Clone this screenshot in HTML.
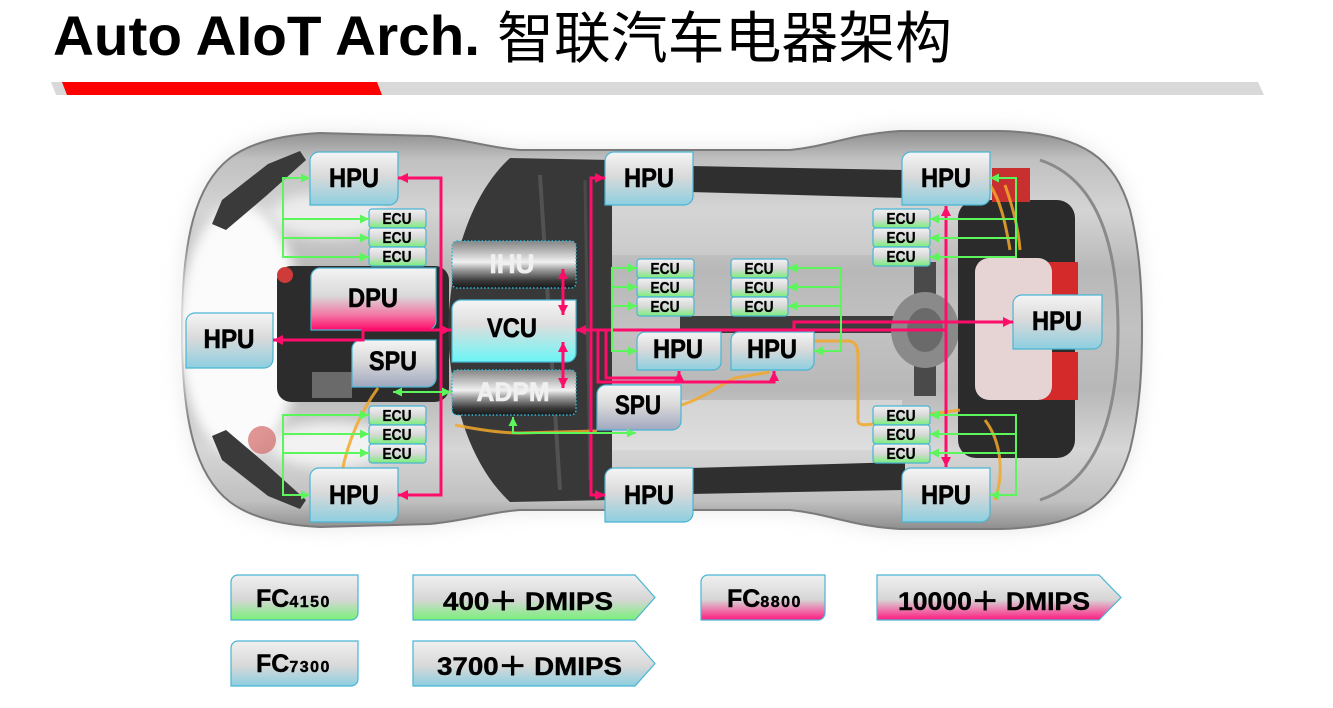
<!DOCTYPE html>
<html>
<head>
<meta charset="utf-8">
<style>
html,body{margin:0;padding:0;background:#fff;}
body{width:1333px;height:708px;overflow:hidden;position:relative;}
svg{position:absolute;left:0;top:0;}
.t{font-family:"Liberation Sans",Arial,sans-serif;font-weight:bold;}
</style>
</head>
<body>
<svg width="1333" height="708" viewBox="0 0 1333 708" xmlns="http://www.w3.org/2000/svg">
<defs>
  <linearGradient id="gCar" x1="0" y1="0" x2="0" y2="1">
    <stop offset="0" stop-color="#8e8e8e"/>
    <stop offset="0.07" stop-color="#c0c0c0"/>
    <stop offset="0.2" stop-color="#d4d4d4"/>
    <stop offset="0.35" stop-color="#b8b8b8"/>
    <stop offset="0.5" stop-color="#c2c2c2"/>
    <stop offset="0.65" stop-color="#b8b8b8"/>
    <stop offset="0.8" stop-color="#d6d6d6"/>
    <stop offset="0.93" stop-color="#c0c0c0"/>
    <stop offset="1" stop-color="#8e8e8e"/>
  </linearGradient>
  <linearGradient id="gBlue" x1="0" y1="0" x2="0" y2="1">
    <stop offset="0" stop-color="#f5f5f5"/>
    <stop offset="0.45" stop-color="#dadada"/>
    <stop offset="1" stop-color="#8dcfe0"/>
  </linearGradient>
  <linearGradient id="gPink" x1="0" y1="0" x2="0" y2="1">
    <stop offset="0" stop-color="#f3f3f3"/>
    <stop offset="0.45" stop-color="#d9d9d9"/>
    <stop offset="0.75" stop-color="#f27aa6"/>
    <stop offset="1" stop-color="#ff0a6a"/>
  </linearGradient>
  <linearGradient id="gCyan" x1="0" y1="0" x2="0" y2="1">
    <stop offset="0" stop-color="#f5f5f5"/>
    <stop offset="0.4" stop-color="#dedede"/>
    <stop offset="1" stop-color="#6af6f6"/>
  </linearGradient>
  <linearGradient id="gSlate" x1="0" y1="0" x2="0" y2="1">
    <stop offset="0" stop-color="#f5f5f5"/>
    <stop offset="0.45" stop-color="#d9d9d9"/>
    <stop offset="1" stop-color="#a0a8c0"/>
  </linearGradient>
  <linearGradient id="gGreen" x1="0" y1="0" x2="0" y2="1">
    <stop offset="0" stop-color="#f2f2f2"/>
    <stop offset="0.5" stop-color="#d8d8d8"/>
    <stop offset="1" stop-color="#78f078"/>
  </linearGradient>
  <linearGradient id="gMetal" x1="0" y1="0" x2="0" y2="1">
    <stop offset="0" stop-color="#858585"/>
    <stop offset="0.15" stop-color="#a8a8a8"/>
    <stop offset="0.45" stop-color="#f0f0f0"/>
    <stop offset="0.6" stop-color="#a2a2a2"/>
    <stop offset="0.85" stop-color="#383838"/>
    <stop offset="1" stop-color="#1a1a1a"/>
  </linearGradient>
  <linearGradient id="lGreen" x1="0" y1="0" x2="0" y2="1">
    <stop offset="0" stop-color="#f0f0f0"/>
    <stop offset="0.55" stop-color="#d6d6d6"/>
    <stop offset="1" stop-color="#78f078"/>
  </linearGradient>
  <linearGradient id="lBlue" x1="0" y1="0" x2="0" y2="1">
    <stop offset="0" stop-color="#f0f0f0"/>
    <stop offset="0.55" stop-color="#d8d8d8"/>
    <stop offset="1" stop-color="#8ccfe0"/>
  </linearGradient>
  <linearGradient id="lPink" x1="0" y1="0" x2="0" y2="1">
    <stop offset="0" stop-color="#f0f0f0"/>
    <stop offset="0.55" stop-color="#d6d6d6"/>
    <stop offset="1" stop-color="#ff1a80"/>
  </linearGradient>
  <filter id="blur10" x="-20%" y="-20%" width="140%" height="140%"><feGaussianBlur stdDeviation="10"/></filter>
  <filter id="blur6" x="-30%" y="-30%" width="160%" height="160%"><feGaussianBlur stdDeviation="6"/></filter>
  <marker id="ap" viewBox="0 0 10 10" refX="10" refY="5" markerWidth="11" markerHeight="10" markerUnits="userSpaceOnUse" orient="auto-start-reverse">
    <path d="M0,0 L10,5 L0,10 z" fill="#ff0d6a"/>
  </marker>
  <marker id="ag" viewBox="0 0 10 10" refX="10" refY="5" markerWidth="9" markerHeight="9" markerUnits="userSpaceOnUse" orient="auto-start-reverse">
    <path d="M0,0 L10,5 L0,10 z" fill="#5cf55c"/>
  </marker>
</defs>

<!-- Title -->
<text class="t" x="53" y="55" font-size="56" fill="#000" textLength="427" lengthAdjust="spacingAndGlyphs">Auto AIoT Arch.</text>
<text x="497" y="58" font-size="56" fill="#000" font-family="'Liberation Sans','Noto Sans CJK SC',sans-serif" textLength="455" lengthAdjust="spacingAndGlyphs">智联汽车电器架构</text>
<polygon points="51,82 1258,82 1264,95 56,95" fill="#d9d9d9"/>
<polygon points="62,82 377,82 382,95 67,95" fill="#ff0000"/>

<!-- Car -->
<path d="M182,330 C182,240 195,185 230,158 C250,143 280,135 320,133 L430,136 C470,140 490,148 520,150 L790,150 C830,146 850,134 900,131 L1000,131 C1085,133 1115,160 1130,210 C1140,250 1142,290 1142,330 C1142,370 1140,410 1130,450 C1115,500 1085,527 1000,529 L900,529 C850,526 830,514 790,510 L520,510 C490,512 470,520 430,524 L320,527 C280,525 250,517 230,502 C195,475 182,420 182,330 Z" fill="#cfcfcf" opacity="0.55" filter="url(#blur10)"/>
<path d="M182,330 C182,240 195,185 230,158 C250,143 280,135 320,133 L430,136 C470,140 490,148 520,150 L790,150 C830,146 850,134 900,131 L1000,131 C1085,133 1115,160 1130,210 C1140,250 1142,290 1142,330 C1142,370 1140,410 1130,450 C1115,500 1085,527 1000,529 L900,529 C850,526 830,514 790,510 L520,510 C490,512 470,520 430,524 L320,527 C280,525 250,517 230,502 C195,475 182,420 182,330 Z" fill="url(#gCar)" stroke="#7a7a7a" stroke-width="2"/>
<!-- front hood highlight -->
<ellipse cx="240" cy="330" rx="62" ry="125" fill="#fbfbfb" filter="url(#blur6)"/>
<ellipse cx="330" cy="215" rx="60" ry="22" fill="#ececec" filter="url(#blur6)"/>
<ellipse cx="330" cy="445" rx="60" ry="22" fill="#f2f2f2" filter="url(#blur6)"/>
<!-- headlights -->
<polygon points="212,224 222,200 268,164 300,151 306,160 266,196 226,230" fill="#3a3a3a"/>
<polygon points="212,436 222,460 268,496 300,509 306,500 266,464 226,430" fill="#3a3a3a"/>
<circle cx="262" cy="440" r="14" fill="#d46a6a" opacity="0.7"/>
<!-- front engine / tyre -->
<rect x="277" y="266" width="172" height="136" rx="14" fill="#2c2c2c"/>
<circle cx="285" cy="275" r="8" fill="#cf3a3a"/>
<rect x="312" y="372" width="40" height="26" fill="#6a6a6a"/>
<!-- windshield -->
<path d="M510,158 C470,195 450,260 448,330 C450,400 470,465 510,502 L612,500 L612,160 Z" fill="#383838"/>
<path d="M540,175 L560,490" stroke="#525252" stroke-width="4"/>
<path d="M585,180 L590,480" stroke="#4a4a4a" stroke-width="3"/>
<!-- roof highlights -->
<rect x="612" y="205" width="290" height="50" fill="#d6d6d6" opacity="0.5"/>
<rect x="612" y="400" width="290" height="50" fill="#e2e2e2" opacity="0.6"/>
<!-- side windows -->
<polygon points="690,166 905,170 905,198 690,192" fill="#2f2f2f"/>
<polygon points="690,468 905,462 905,490 690,494" fill="#2f2f2f"/>
<!-- driveshaft / diff -->
<rect x="680" y="316" width="270" height="17" fill="#3c3c3c"/>
<rect x="914" y="262" width="22" height="134" fill="#4a4a4a"/>
<ellipse cx="925" cy="330" rx="34" ry="38" fill="#8a8a8a"/>
<ellipse cx="925" cy="330" rx="18" ry="22" fill="#6a6a6a"/>
<!-- rear bay -->
<rect x="958" y="200" width="117" height="258" rx="18" fill="#2b2b2b"/>
<rect x="992" y="168" width="38" height="34" fill="#c83030"/>
<rect x="1040" y="262" width="38" height="34" fill="#d42a2a"/>
<rect x="1040" y="352" width="38" height="48" fill="#d42a2a"/>
<rect x="975" y="258" width="77" height="142" rx="14" fill="#e6d4d4"/>
<path d="M1040,160 C1100,180 1118,250 1118,330 C1118,410 1100,480 1040,500" stroke="#8a8a8a" stroke-width="3" fill="none"/>
<!-- orange wires -->
<g stroke="#f2a82a" stroke-width="3" fill="none" opacity="0.85">
  <path d="M378,388 C362,410 348,440 342,472"/>
  <path d="M455,425 C480,430 500,433 520,433 L597,431"/>
  <path d="M814,341 L850,341 C858,343 858,350 858,360 L858,420 C858,428 870,425 900,418 L960,410"/>
  <path d="M681,405 C700,400 720,385 735,378 L770,372"/>
  <path d="M990,185 C1000,200 1005,220 1010,250"/>
  <path d="M1005,185 C1012,205 1018,225 1020,250"/>
  <path d="M985,420 C1000,440 1005,470 995,500"/>
</g>

<!-- Boxes -->
<g stroke="#4ab4d4" stroke-width="1.2">
  <path d="M319,152 H398 V196 A9,9 0 0 1 389,205 H310 V161 A9,9 0 0 1 319,152 Z" fill="url(#gBlue)"/>
  <path d="M319,468 H398 V513 A9,9 0 0 1 389,522 H310 V477 A9,9 0 0 1 319,468 Z" fill="url(#gBlue)"/>
  <path d="M195,313 H273 V359 A9,9 0 0 1 264,368 H186 V322 A9,9 0 0 1 195,313 Z" fill="url(#gBlue)"/>
  <path d="M320,268 H436 V321 A9,9 0 0 1 427,330 H311 V277 A9,9 0 0 1 320,268 Z" fill="url(#gPink)"/>
  <path d="M361,340 H436 V378 A9,9 0 0 1 427,387 H352 V349 A9,9 0 0 1 361,340 Z" fill="url(#gSlate)"/>
  <path d="M461,300 H576 V353 A9,9 0 0 1 567,362 H452 V309 A9,9 0 0 1 461,300 Z" fill="url(#gCyan)"/>
  <path d="M614,152 H693 V196 A9,9 0 0 1 684,205 H605 V161 A9,9 0 0 1 614,152 Z" fill="url(#gBlue)"/>
  <path d="M614,468 H693 V513 A9,9 0 0 1 684,522 H605 V477 A9,9 0 0 1 614,468 Z" fill="url(#gBlue)"/>
  <path d="M911,152 H990 V196 A9,9 0 0 1 981,205 H902 V161 A9,9 0 0 1 911,152 Z" fill="url(#gBlue)"/>
  <path d="M911,468 H990 V513 A9,9 0 0 1 981,522 H902 V477 A9,9 0 0 1 911,468 Z" fill="url(#gBlue)"/>
  <path d="M1022,295 H1102 V340 A9,9 0 0 1 1093,349 H1013 V304 A9,9 0 0 1 1022,295 Z" fill="url(#gBlue)"/>
  <path d="M645,332 H721 V362 A8,8 0 0 1 713,370 H637 V340 A8,8 0 0 1 645,332 Z" fill="url(#gBlue)"/>
  <path d="M739,332 H814 V362 A8,8 0 0 1 806,370 H731 V340 A8,8 0 0 1 739,332 Z" fill="url(#gBlue)"/>
  <path d="M606,385 H681 V421 A9,9 0 0 1 672,430 H597 V394 A9,9 0 0 1 606,385 Z" fill="url(#gSlate)"/>
  <!-- ECUs -->
  <rect x="369" y="209" width="57" height="19" rx="3" fill="url(#gGreen)"/>
  <rect x="369" y="228" width="57" height="19" rx="3" fill="url(#gGreen)"/>
  <rect x="369" y="247" width="57" height="19" rx="3" fill="url(#gGreen)"/>
  <rect x="369" y="406" width="57" height="19" rx="3" fill="url(#gGreen)"/>
  <rect x="369" y="425" width="57" height="19" rx="3" fill="url(#gGreen)"/>
  <rect x="369" y="444" width="57" height="19" rx="3" fill="url(#gGreen)"/>
  <rect x="637" y="259" width="57" height="19" rx="3" fill="url(#gGreen)"/>
  <rect x="637" y="278" width="57" height="19" rx="3" fill="url(#gGreen)"/>
  <rect x="637" y="297" width="57" height="19" rx="3" fill="url(#gGreen)"/>
  <rect x="731" y="259" width="57" height="19" rx="3" fill="url(#gGreen)"/>
  <rect x="731" y="278" width="57" height="19" rx="3" fill="url(#gGreen)"/>
  <rect x="731" y="297" width="57" height="19" rx="3" fill="url(#gGreen)"/>
  <rect x="873" y="209" width="57" height="19" rx="3" fill="url(#gGreen)"/>
  <rect x="873" y="228" width="57" height="19" rx="3" fill="url(#gGreen)"/>
  <rect x="873" y="247" width="57" height="19" rx="3" fill="url(#gGreen)"/>
  <rect x="873" y="406" width="57" height="19" rx="3" fill="url(#gGreen)"/>
  <rect x="873" y="425" width="57" height="19" rx="3" fill="url(#gGreen)"/>
  <rect x="873" y="444" width="57" height="19" rx="3" fill="url(#gGreen)"/>
</g>
<!-- IHU / ADPM -->
<rect x="452" y="241" width="124" height="47" rx="5" fill="url(#gMetal)" stroke="#2fb8d8" stroke-width="1.5" stroke-dasharray="1.5 2"/>
<rect x="452" y="370" width="124" height="45" rx="5" fill="url(#gMetal)" stroke="#2fb8d8" stroke-width="1.5" stroke-dasharray="1.5 2"/>

<!-- Box labels -->
<g class="t" font-size="27" fill="#000" stroke="#000" stroke-width="0.6" text-anchor="middle">
  <text x="354" y="187" textLength="50" lengthAdjust="spacingAndGlyphs">HPU</text>
  <text x="354" y="504" textLength="50" lengthAdjust="spacingAndGlyphs">HPU</text>
  <text x="229" y="348" textLength="51" lengthAdjust="spacingAndGlyphs">HPU</text>
  <text x="373" y="307" textLength="50" lengthAdjust="spacingAndGlyphs">DPU</text>
  <text x="393" y="370" textLength="48" lengthAdjust="spacingAndGlyphs">SPU</text>
  <text x="512" y="337" textLength="50" lengthAdjust="spacingAndGlyphs">VCU</text>
  <text x="649" y="187" textLength="50" lengthAdjust="spacingAndGlyphs">HPU</text>
  <text x="649" y="504" textLength="50" lengthAdjust="spacingAndGlyphs">HPU</text>
  <text x="946" y="187" textLength="50" lengthAdjust="spacingAndGlyphs">HPU</text>
  <text x="946" y="504" textLength="50" lengthAdjust="spacingAndGlyphs">HPU</text>
  <text x="1057" y="330" textLength="50" lengthAdjust="spacingAndGlyphs">HPU</text>
  <text x="678" y="358" textLength="50" lengthAdjust="spacingAndGlyphs">HPU</text>
  <text x="772" y="358" textLength="50" lengthAdjust="spacingAndGlyphs">HPU</text>
  <text x="638" y="414" textLength="46" lengthAdjust="spacingAndGlyphs">SPU</text>
  <text x="512" y="273" textLength="45" lengthAdjust="spacingAndGlyphs" fill="#f0f0f0" stroke="#f0f0f0">IHU</text>
  <text x="513" y="401" textLength="73" lengthAdjust="spacingAndGlyphs" fill="#f0f0f0" stroke="#f0f0f0">ADPM</text>
</g>
<g class="t" font-size="16" fill="#000" stroke="#000" stroke-width="0.3" text-anchor="middle">
  <text x="397" y="224" textLength="29" lengthAdjust="spacingAndGlyphs">ECU</text>
  <text x="397" y="243" textLength="29" lengthAdjust="spacingAndGlyphs">ECU</text>
  <text x="397" y="262" textLength="29" lengthAdjust="spacingAndGlyphs">ECU</text>
  <text x="397" y="421" textLength="29" lengthAdjust="spacingAndGlyphs">ECU</text>
  <text x="397" y="440" textLength="29" lengthAdjust="spacingAndGlyphs">ECU</text>
  <text x="397" y="459" textLength="29" lengthAdjust="spacingAndGlyphs">ECU</text>
  <text x="665" y="274" textLength="29" lengthAdjust="spacingAndGlyphs">ECU</text>
  <text x="665" y="293" textLength="29" lengthAdjust="spacingAndGlyphs">ECU</text>
  <text x="665" y="312" textLength="29" lengthAdjust="spacingAndGlyphs">ECU</text>
  <text x="759" y="274" textLength="29" lengthAdjust="spacingAndGlyphs">ECU</text>
  <text x="759" y="293" textLength="29" lengthAdjust="spacingAndGlyphs">ECU</text>
  <text x="759" y="312" textLength="29" lengthAdjust="spacingAndGlyphs">ECU</text>
  <text x="901" y="224" textLength="29" lengthAdjust="spacingAndGlyphs">ECU</text>
  <text x="901" y="243" textLength="29" lengthAdjust="spacingAndGlyphs">ECU</text>
  <text x="901" y="262" textLength="29" lengthAdjust="spacingAndGlyphs">ECU</text>
  <text x="901" y="421" textLength="29" lengthAdjust="spacingAndGlyphs">ECU</text>
  <text x="901" y="440" textLength="29" lengthAdjust="spacingAndGlyphs">ECU</text>
  <text x="901" y="459" textLength="29" lengthAdjust="spacingAndGlyphs">ECU</text>
</g>

<!-- Pink connectors -->
<g stroke="#ff0d6a" stroke-width="3" fill="none">
  <polyline points="398,178 441,178 441,495 398,495" marker-start="url(#ap)" marker-end="url(#ap)"/>
  <polyline points="273,340 363,340 363,330 451,330" marker-start="url(#ap)" marker-end="url(#ap)"/>
  <line x1="563" y1="269" x2="563" y2="315" marker-start="url(#ap)" marker-end="url(#ap)"/>
  <line x1="563" y1="342" x2="563" y2="388" marker-start="url(#ap)" marker-end="url(#ap)"/>
  <line x1="946" y1="330" x2="576" y2="330" marker-end="url(#ap)"/>
  <polyline points="605,178 591,178 591,495 605,495" marker-start="url(#ap)" marker-end="url(#ap)"/>
  <polyline points="598,330 598,382 774,382 774,371" marker-end="url(#ap)"/>
  <polyline points="606,330 606,378 679,378 679,371" marker-end="url(#ap)"/>
  <polyline points="794,330 794,322 1013,322" marker-end="url(#ap)"/>
  <line x1="946" y1="206" x2="946" y2="467" marker-start="url(#ap)" marker-end="url(#ap)"/>
</g>

<!-- Green connectors -->
<g stroke="#5cf55c" stroke-width="2" fill="none">
  <polyline points="310,178 283,178 283,257 369,257" marker-start="url(#ag)" marker-end="url(#ag)"/>
  <line x1="283" y1="219" x2="369" y2="219" marker-end="url(#ag)"/>
  <line x1="283" y1="238" x2="369" y2="238" marker-end="url(#ag)"/>
  <polyline points="369,415 283,415 283,495 310,495" marker-start="url(#ag)" marker-end="url(#ag)"/>
  <line x1="283" y1="434" x2="369" y2="434" marker-end="url(#ag)"/>
  <line x1="283" y1="453" x2="369" y2="453" marker-end="url(#ag)"/>
  <line x1="393" y1="392" x2="451" y2="392" marker-start="url(#ag)" marker-end="url(#ag)"/>
  <polyline points="513,417 513,433 636,433" marker-start="url(#ag)" marker-end="url(#ag)"/>
  <polyline points="637,268 612,268 612,351 637,351" marker-start="url(#ag)" marker-end="url(#ag)"/>
  <line x1="612" y1="287" x2="637" y2="287" marker-end="url(#ag)"/>
  <line x1="612" y1="306" x2="637" y2="306" marker-end="url(#ag)"/>
  <polyline points="788,268 841,268 841,351 814,351" marker-start="url(#ag)" marker-end="url(#ag)"/>
  <line x1="841" y1="287" x2="788" y2="287" marker-end="url(#ag)"/>
  <line x1="841" y1="306" x2="788" y2="306" marker-end="url(#ag)"/>
  <polyline points="990,178 1016,178 1016,257 930,257" marker-start="url(#ag)" marker-end="url(#ag)"/>
  <line x1="1016" y1="219" x2="930" y2="219" marker-end="url(#ag)"/>
  <line x1="1016" y1="238" x2="930" y2="238" marker-end="url(#ag)"/>
  <polyline points="930,415 1016,415 1016,495 990,495" marker-start="url(#ag)" marker-end="url(#ag)"/>
  <line x1="1016" y1="434" x2="930" y2="434" marker-end="url(#ag)"/>
  <line x1="1016" y1="453" x2="930" y2="453" marker-end="url(#ag)"/>
</g>

<!-- Legend -->
<g stroke="#4ab4d4" stroke-width="1.2">
  <path d="M238,575 H358 V613 A7,7 0 0 1 351,620 H231 V582 A7,7 0 0 1 238,575 Z" fill="url(#lGreen)"/>
  <path d="M238,641 H358 V679 A7,7 0 0 1 351,686 H231 V648 A7,7 0 0 1 238,641 Z" fill="url(#lBlue)"/>
  <path d="M708,575 H825 V613 A7,7 0 0 1 818,620 H701 V582 A7,7 0 0 1 708,575 Z" fill="url(#lPink)"/>
  <polygon points="413,575 635,575 655,597.5 635,620 413,620" fill="url(#lGreen)"/>
  <polygon points="413,641 635,641 655,663.5 635,686 413,686" fill="url(#lBlue)"/>
  <polygon points="877,575 1099,575 1121,597.5 1099,620 877,620" fill="url(#lPink)"/>
</g>
<g class="t" fill="#000" stroke="#000" stroke-width="0.4" font-family="'Liberation Sans','Noto Sans CJK SC',sans-serif">
  <text x="256" y="607"><tspan font-size="25">FC</tspan><tspan font-size="16" letter-spacing="1.5">4150</tspan></text>
  <text x="256" y="672"><tspan font-size="25">FC</tspan><tspan font-size="16" letter-spacing="1.5">7300</tspan></text>
  <text x="727" y="607"><tspan font-size="25">FC</tspan><tspan font-size="16" letter-spacing="1.5">8800</tspan></text>
  <text x="443" y="610" font-size="25" textLength="170" lengthAdjust="spacingAndGlyphs">400＋ DMIPS</text>
  <text x="437" y="675" font-size="25" textLength="185" lengthAdjust="spacingAndGlyphs">3700＋ DMIPS</text>
  <text x="898" y="610" font-size="25" textLength="192" lengthAdjust="spacingAndGlyphs">10000＋ DMIPS</text>
</g>
</svg>
</body>
</html>
